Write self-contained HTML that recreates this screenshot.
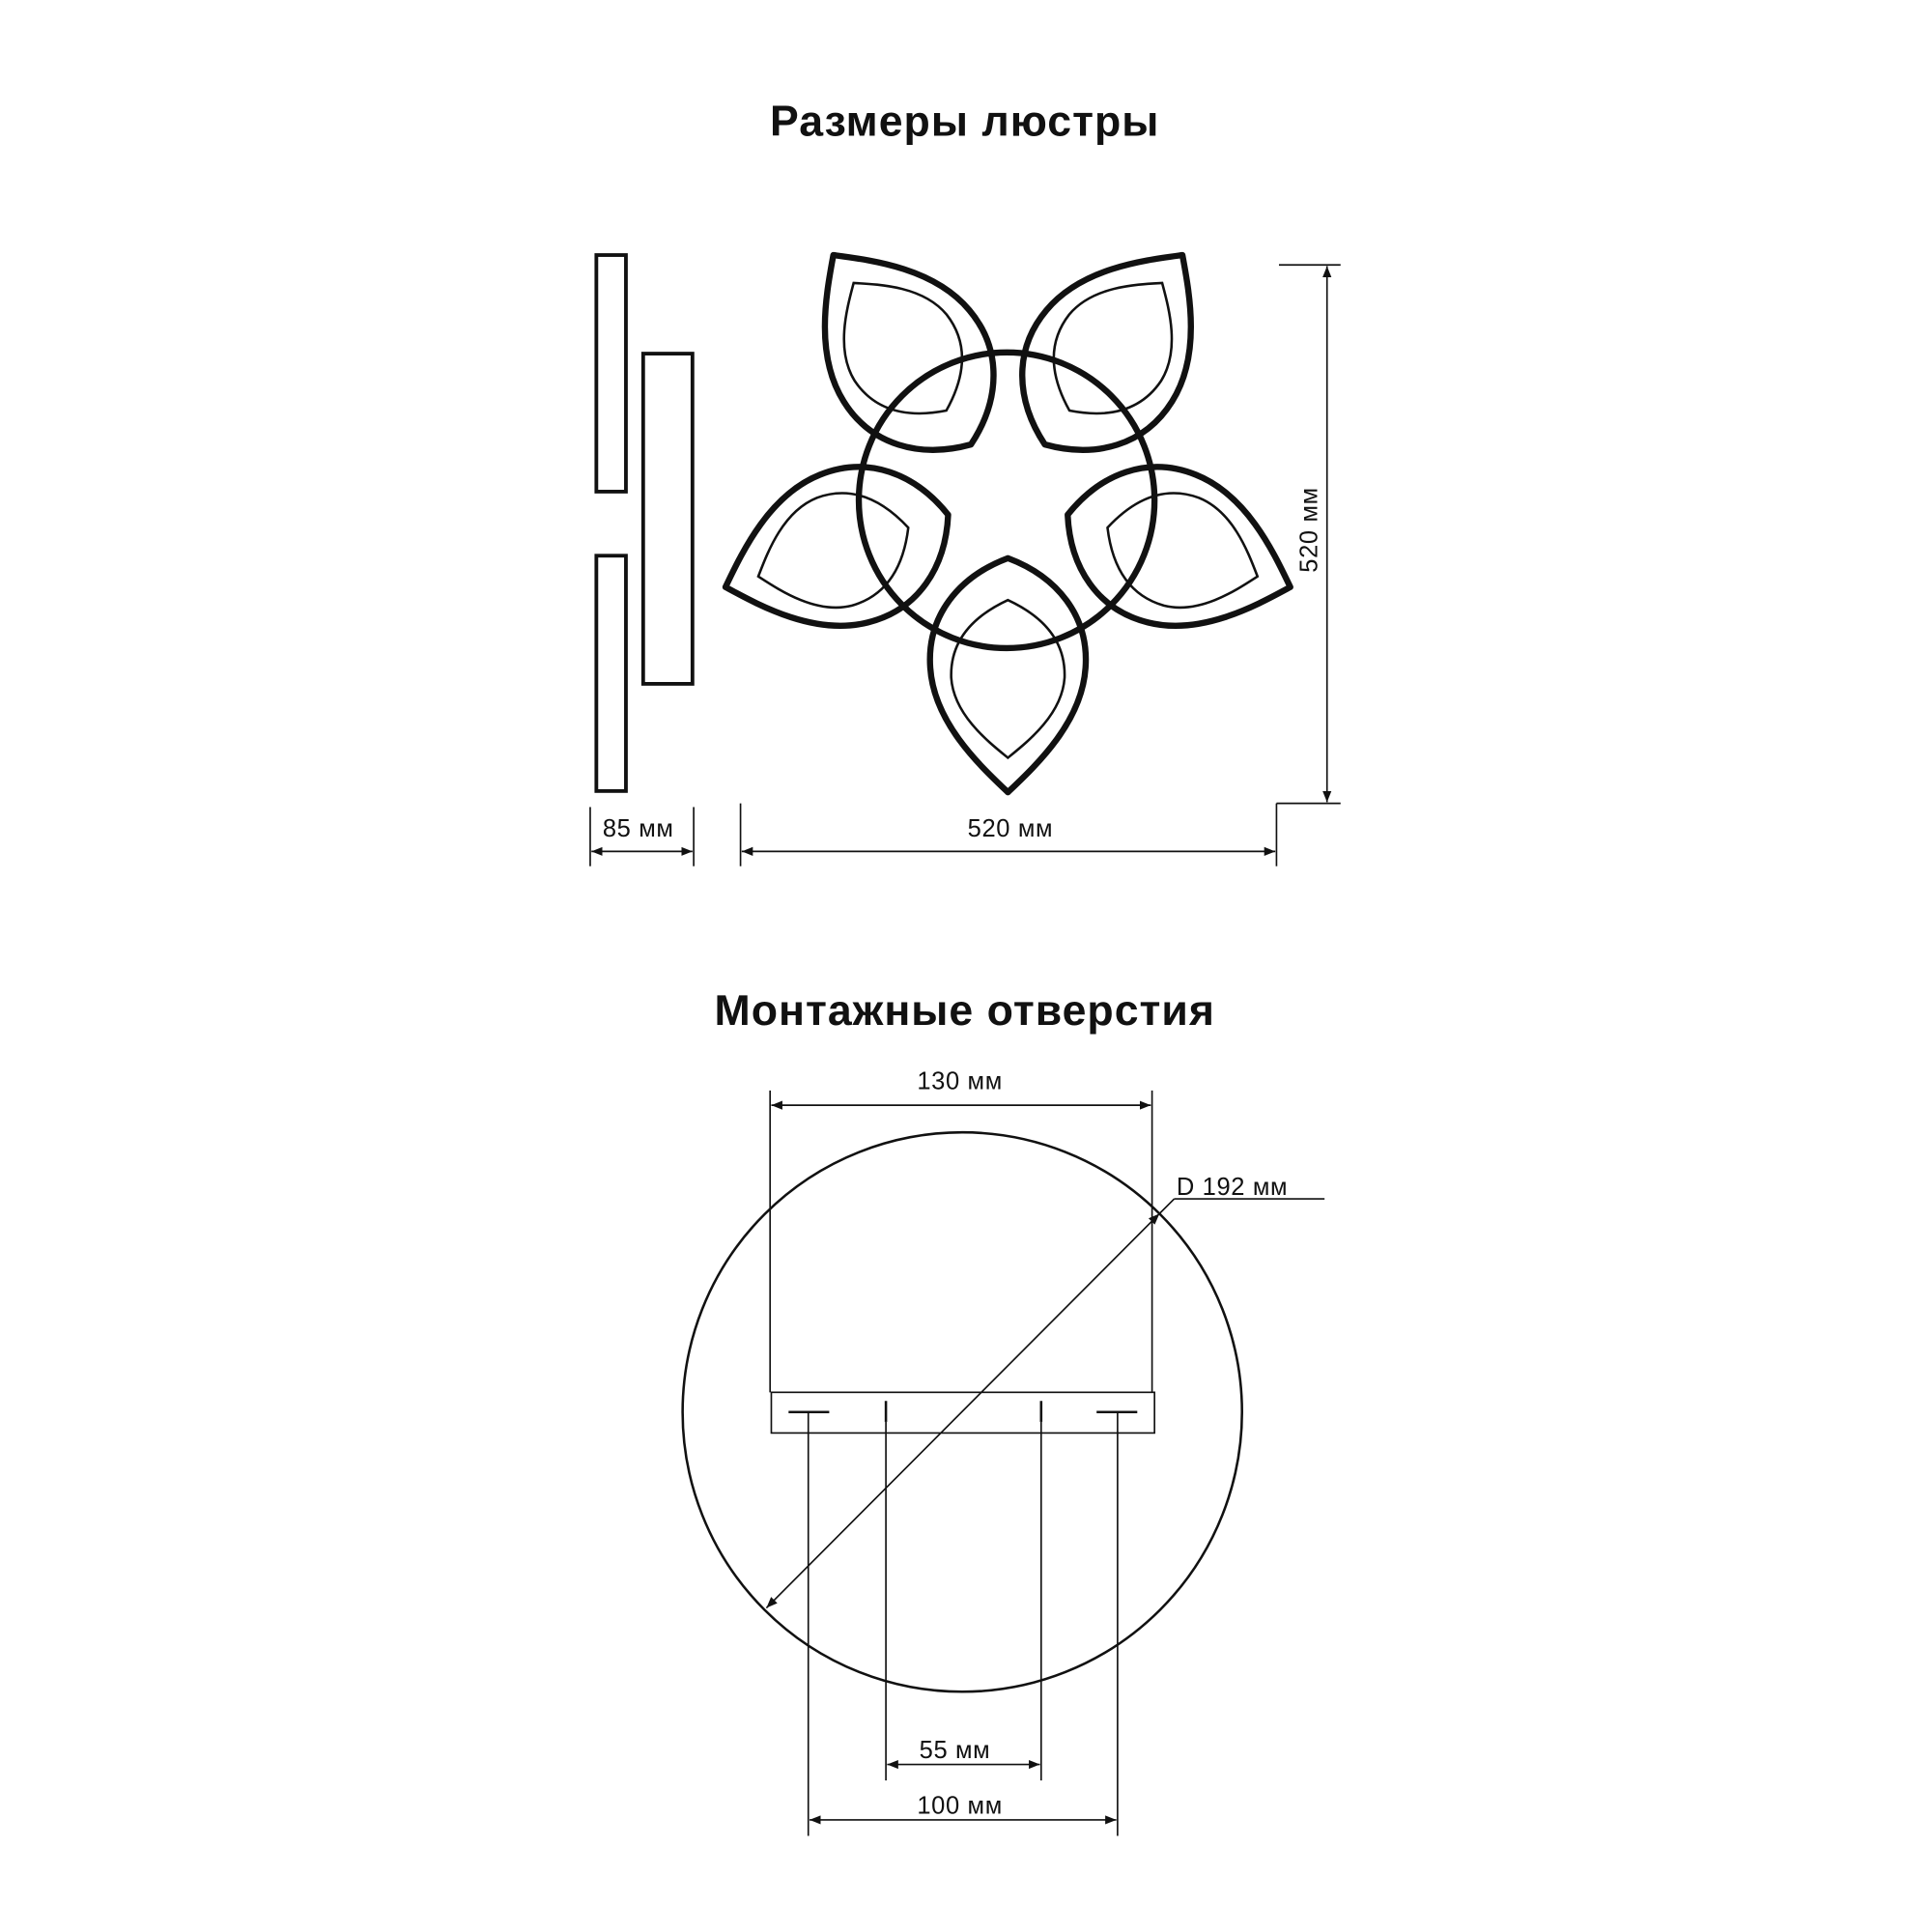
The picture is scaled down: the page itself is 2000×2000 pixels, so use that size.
<!DOCTYPE html>
<html><head><meta charset="utf-8"><style>html,body{margin:0;padding:0;background:#fff}svg{display:block}</style></head>
<body>
<svg width="2000" height="2000" viewBox="0 0 1568 1568" xmlns="http://www.w3.org/2000/svg">
<defs>
<marker id="a" viewBox="0 0 10 10" refX="10" refY="5" markerWidth="9" markerHeight="9" markerUnits="userSpaceOnUse" orient="auto-start-reverse"><path d="M0,1 L10,5 L0,9 Z" fill="#111"/></marker>
<g id="petal">
<path d="M0,51 C40,66 66,98 63,140 C60,185 22,220 0,241 C-22,220 -60,185 -63,140 C-66,98 -40,66 0,51 Z" fill="none" stroke="#111" stroke-width="5" stroke-linejoin="round"/>
<path d="M0,85 C28,98 47,118 46,148 C44,178 16,200 0,213 C-16,200 -44,178 -46,148 C-47,118 -28,98 0,85 Z" fill="none" stroke="#111" stroke-width="2"/>
</g>
</defs>
<g font-family="'Liberation Sans', sans-serif" fill="#111">
<text x="783" y="110" font-size="35" font-weight="bold" text-anchor="middle" letter-spacing="0.8">Размеры люстры</text>
<text x="783" y="832" font-size="35" font-weight="bold" text-anchor="middle" letter-spacing="0.8">Монтажные отверстия</text>
<text x="518" y="679" font-size="20" text-anchor="middle" letter-spacing="0.5">85 мм</text>
<text x="820" y="679" font-size="20" text-anchor="middle" letter-spacing="0.5">520 мм</text>
<text x="0" y="0" font-size="20" text-anchor="middle" letter-spacing="0.5" transform="translate(1069,430) rotate(-90)">520 мм</text>
<text x="779" y="884" font-size="20" text-anchor="middle" letter-spacing="0.5">130 мм</text>
<text x="1000" y="970" font-size="20" text-anchor="middle" letter-spacing="0.5">D 192 мм</text>
<text x="775" y="1427" font-size="20" text-anchor="middle" letter-spacing="0.5">55 мм</text>
<text x="779" y="1472" font-size="20" text-anchor="middle" letter-spacing="0.5">100 мм</text>
</g>
<g fill="none" stroke="#111">
<rect x="484" y="207" width="24" height="192" stroke-width="3"/>
<rect x="522" y="287" width="40" height="268" stroke-width="3"/>
<rect x="484" y="451" width="24" height="191" stroke-width="3"/>
<g stroke-width="1.3">
<line x1="479" y1="655" x2="479" y2="703"/><line x1="563" y1="655" x2="563" y2="703"/>
<line x1="480" y1="691" x2="562" y2="691" marker-start="url(#a)" marker-end="url(#a)"/>
<line x1="601" y1="652" x2="601" y2="703"/><line x1="1036" y1="652" x2="1036" y2="703"/>
<line x1="602" y1="691" x2="1035" y2="691" marker-start="url(#a)" marker-end="url(#a)"/>
<line x1="1036" y1="652" x2="1088" y2="652"/><line x1="1038" y1="215" x2="1088" y2="215"/>
<line x1="1077" y1="216" x2="1077" y2="651" marker-start="url(#a)" marker-end="url(#a)"/>
</g>
<g transform="translate(818,402)">
<use href="#petal"/>
<use href="#petal" transform="rotate(72)"/>
<use href="#petal" transform="rotate(144)"/>
<use href="#petal" transform="rotate(216)"/>
<use href="#petal" transform="rotate(288)"/>
</g>
<circle cx="817" cy="406" r="120" stroke-width="5"/>
<circle cx="781" cy="1146" r="227" stroke-width="2"/>
<g stroke-width="1.3">
<line x1="625" y1="885" x2="625" y2="1130"/><line x1="935" y1="885" x2="935" y2="1130"/>
<line x1="626" y1="897" x2="934" y2="897" marker-start="url(#a)" marker-end="url(#a)"/>
<rect x="626" y="1130" width="311" height="33"/>
<line x1="640" y1="1146" x2="673" y2="1146" stroke-width="2"/><line x1="890" y1="1146" x2="923" y2="1146" stroke-width="2"/>
<line x1="719" y1="1137" x2="719" y2="1154" stroke-width="2"/><line x1="845" y1="1137" x2="845" y2="1154" stroke-width="2"/>
<line x1="656" y1="1146" x2="656" y2="1490"/><line x1="907" y1="1146" x2="907" y2="1490"/>
<line x1="719" y1="1154" x2="719" y2="1445"/><line x1="845" y1="1154" x2="845" y2="1445"/>
<line x1="720" y1="1432" x2="844" y2="1432" marker-start="url(#a)" marker-end="url(#a)"/>
<line x1="657" y1="1477" x2="906" y2="1477" marker-start="url(#a)" marker-end="url(#a)"/>
<line x1="622" y1="1305" x2="941" y2="985" marker-start="url(#a)" marker-end="url(#a)"/>
<line x1="941" y1="985" x2="953" y2="973"/>
<line x1="953" y1="973" x2="1075" y2="973"/>
</g>
</g>
</svg>
</body></html>
